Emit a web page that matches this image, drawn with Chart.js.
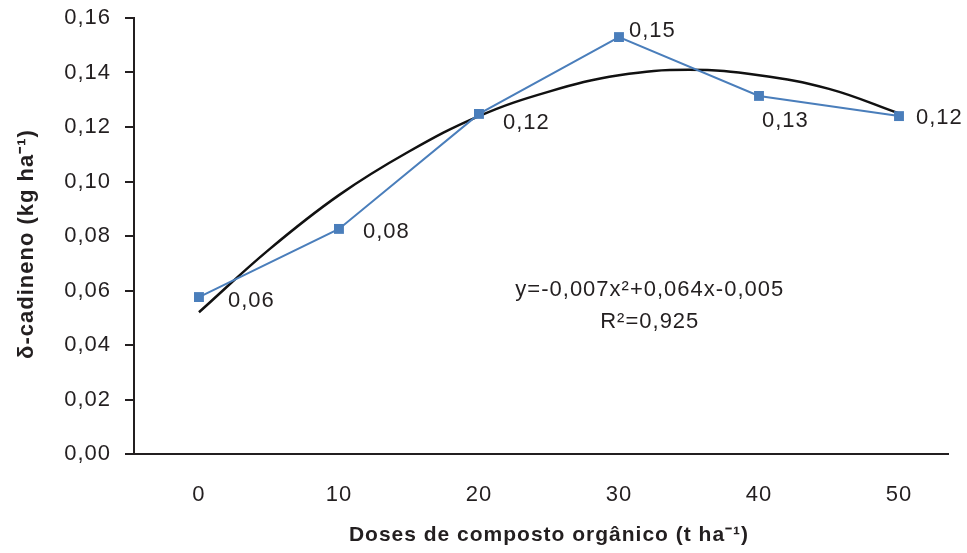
<!DOCTYPE html>
<html>
<head>
<meta charset="utf-8">
<script src="https://cdn.jsdelivr.net/npm/chart.js@4"></script>
<style>
html,body{margin:0;padding:0;background:#fff}
#wrap{width:967px;height:553px;position:relative}
</style>
</head>
<body>
<div id="wrap"><canvas id="chart"></canvas></div>
<script>

const doses = [0, 10, 20, 30, 40, 50]
const cadineno = [0.0576, 0.0826, 0.1248, 0.153, 0.1314, 0.124]
const pointLabels = ["0,06", "0,08", "0,12", "0,15", "0,13", "0,12"]

// trend curve
const trendDoses = [0, 5, 10, 15, 20, 25, 30, 35, 40, 45, 50]
const trendValues = [0.052, 0.075, 0.095, 0.111, 0.124, 0.133, 0.139, 0.141, 0.139, 0.134, 0.125]

const yTicks = [0, 0.02, 0.04, 0.06, 0.08, 0.10, 0.12, 0.14, 0.16]
const equation = "y=-0,007x\u00b2+0,064x-0,005"
const rSquared = "R\u00b2=0,925"
const xTitle = "Doses de composto orgânico (t ha\u207b\u00b9)"
const yTitle = "\u03b4-cadineno (kg ha\u207b\u00b9)"

const ink = "#231f20"
const blue = "#4a7ebb"
const font = "'Liberation Sans', Arial, sans-serif"

// label offsets next to each point (px)
const labelOffsets = [[29, 4], [24, 3], [24, 9], [10, -6], [3, 25], [17, 2]]

const spacingPlugin = {
id: "spacing",
beforeDraw(chart){ chart.ctx.letterSpacing = "1px" }
}

const labelsPlugin = {
id: "labels",
afterDatasetsDraw(chart){
const ctx = chart.ctx
const meta = chart.getDatasetMeta(1)
ctx.save()
ctx.fillStyle = ink
ctx.font = "22px " + font
ctx.textBaseline = "middle"
ctx.textAlign = "left"
meta.data.forEach((p, i) => {
ctx.fillText(pointLabels[i], p.x + labelOffsets[i][0], p.y + labelOffsets[i][1])
})
const xs = chart.scales.x
const ys = chart.scales.y
const cx = xs.getPixelForValue(32.2)
ctx.textAlign = "center"
ctx.fillText(equation, cx, ys.getPixelForValue(0.0603))
ctx.fillText(rSquared, cx, ys.getPixelForValue(0.0486))
ctx.font = "bold 21px " + font
ctx.fillText(xTitle, 549, 535)
ctx.translate(27, 244)
ctx.rotate(-Math.PI / 2)
ctx.font = "bold 22px " + font
ctx.fillText(yTitle, 0, 0)
ctx.restore()
}
}

new Chart(document.getElementById("chart"), {
type: "line",
data: {
datasets: [
{
label: "trend",
data: trendDoses.map((d, i) => ({x: d, y: trendValues[i]})),
borderColor: "#111",
borderWidth: 2.5,
pointRadius: 0,
tension: 0.4,
order: 2
},
{
label: "cadineno",
data: doses.map((d, i) => ({x: d, y: cadineno[i]})),
borderColor: blue,
backgroundColor: blue,
borderWidth: 2,
pointStyle: "rect",
pointRadius: 7,
pointBorderWidth: 0,
tension: 0,
order: 1
}
]
},
options: {
responsive: true,
maintainAspectRatio: false,
animation: false,
layout: {padding: {top: 18, right: 19, left: 0, bottom: 0}},
plugins: {legend: {display: false}, tooltip: {enabled: false}},
scales: {
x: {
type: "linear",
min: -4.64,
max: 53.5,
afterBuildTicks: s => { s.ticks = doses.map(v => ({value: v})) },
afterFit: s => { s.height = 99 },
grid: {display: false},
border: {color: ink, width: 2},
ticks: {color: ink, font: {family: font, size: 22}, padding: 20}
},
y: {
min: 0,
max: 0.16,
afterBuildTicks: s => { s.ticks = yTicks.map(v => ({value: v})) },
afterFit: s => { s.width = 134; s.paddingTop = 0; s.paddingBottom = 0 },
grid: {drawOnChartArea: false, tickLength: 9, color: ink, lineWidth: 2},
border: {color: ink, width: 2},
ticks: {color: ink, font: {family: font, size: 22}, padding: 14,
callback: v => v.toFixed(2).replace(".", ",")}
}
}
},
plugins: [spacingPlugin, labelsPlugin]
})

</script>
</body>
</html>
